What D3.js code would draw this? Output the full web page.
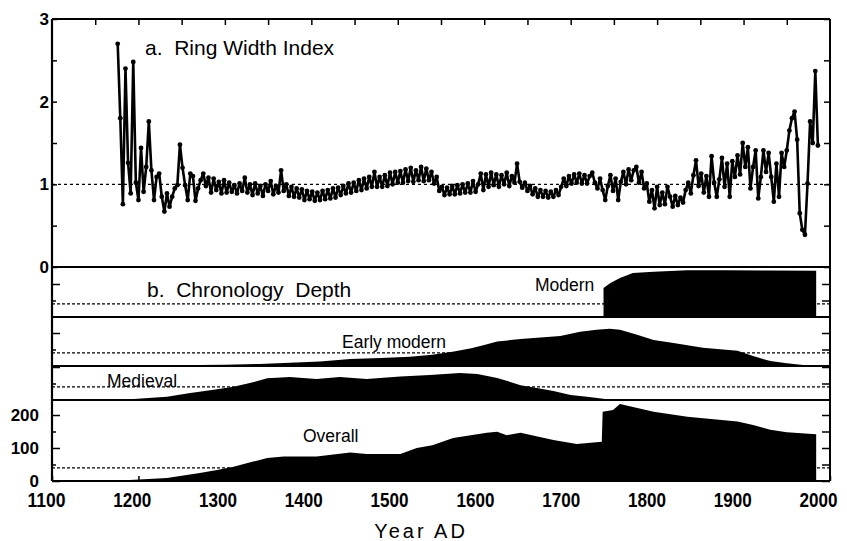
<!DOCTYPE html>
<html>
<head>
<meta charset="utf-8">
<script src="https://cdn.jsdelivr.net/npm/d3@7/dist/d3.min.js"></script>
<style>
body { margin: 0; background: white; }
svg { display: block; font-family: "Liberation Sans", Arial, Helvetica, sans-serif; }
</style>
</head>
<body>
<svg id="chart" width="847" height="541"></svg>
<script>

//****************************************************************************************************************************//
// Data

var ringStart = 1176, ringStep = 3;
var ringIndex = [
	2.70,1.80,0.76,2.40,1.26,0.89,2.48,1.02,0.81,1.44,
	0.91,1.21,1.76,1.17,0.81,1.09,1.13,0.85,0.67,0.89,
	0.73,0.85,0.95,0.99,1.48,1.20,0.99,0.81,1.13,1.10,
	0.80,0.95,1.05,1.13,0.98,1.08,0.90,1.07,0.93,1.03,
	0.89,1.05,0.90,1.02,0.91,0.99,0.89,1.01,0.92,1.08,
	0.90,1.00,0.87,1.01,0.89,0.98,0.86,1.00,0.92,1.04,
	0.88,0.98,0.90,1.17,0.92,1.00,0.86,0.97,0.85,0.95,
	0.84,0.94,0.81,0.92,0.82,0.91,0.80,0.90,0.81,0.92,
	0.82,0.93,0.83,0.95,0.84,0.96,0.87,0.98,0.89,1.01,
	0.90,1.02,0.92,1.05,0.93,1.07,0.95,1.09,0.97,1.15,
	0.97,1.09,0.97,1.11,0.98,1.14,1.00,1.15,1.02,1.16,
	1.02,1.18,1.04,1.20,1.03,1.17,1.05,1.21,1.04,1.19,
	1.05,1.15,1.01,1.09,0.92,0.97,0.87,0.96,0.88,0.98,
	0.88,0.99,0.89,1.00,0.90,1.01,0.90,1.04,0.91,1.00,
	1.13,0.93,1.12,0.97,1.14,0.99,1.12,0.97,1.11,1.00,
	1.14,0.98,1.10,1.02,1.25,1.03,0.96,1.02,0.92,0.98,
	0.88,0.95,0.85,0.93,0.85,0.92,0.84,0.91,0.85,0.93,
	0.87,0.97,1.07,0.98,1.10,1.01,1.12,1.02,1.13,1.01,
	1.11,1.01,1.10,1.14,1.02,0.95,1.07,0.93,0.81,0.98,
	1.11,0.92,1.07,0.81,1.03,1.15,1.00,1.18,1.05,1.17,
	1.21,1.02,1.15,0.95,1.01,0.79,0.93,0.71,0.97,0.75,
	0.90,0.76,0.97,0.85,0.73,0.86,0.75,0.84,0.78,0.93,
	1.02,0.89,1.11,1.29,0.98,1.13,0.90,1.10,0.85,1.34,
	1.02,0.85,1.06,1.32,0.97,1.25,0.85,1.28,1.09,1.35,
	1.12,1.50,1.21,1.45,0.95,1.21,1.41,0.83,1.09,1.41,
	1.15,1.38,1.09,0.79,1.25,0.85,1.38,1.21,1.41,1.65,
	1.80,1.88,1.54,0.65,0.45,0.39,1.01,1.76,1.50,2.37,
	1.47
];

var modernYears = [1738, 1746, 1757, 1772, 1796, 1835, 1880, 1930, 1984];
var modernDepth = [88, 103, 118, 133, 137, 142, 142, 141, 140];

var earlyYears = [1240, 1300, 1340, 1375, 1410, 1445, 1480, 1514, 1540, 1565, 1585, 1600, 1615, 1642, 1665, 1688, 1711, 1730, 1745, 1757, 1775, 1796, 1819, 1853, 1893, 1911, 1931, 1950, 1969, 1985];
var earlyDepth = [2, 4, 6, 10, 14, 21, 24, 28, 34, 44, 54, 64, 74, 82, 86, 91, 104, 110, 113, 110, 96, 79, 70, 55, 46, 30, 15, 8, 3, 2];

var medievalYears = [1190, 1233, 1260, 1285, 1310, 1330, 1349, 1375, 1406, 1433, 1464, 1503, 1537, 1572, 1592, 1615, 1642, 1661, 1680, 1700, 1719, 1740];
var medievalDepth = [2, 10, 21, 30, 40, 52, 66, 70, 64, 70, 64, 71, 76, 82, 79, 67, 45, 36, 27, 15, 10, 3];

var overallYears = [1190, 1233, 1271, 1291, 1310, 1349, 1368, 1406, 1445, 1464, 1503, 1522, 1540, 1564, 1603, 1615, 1626, 1642, 1680, 1707, 1736, 1737, 1749, 1757, 1796, 1835, 1893, 1911, 1931, 1950, 1984];
var overallDepth = [3, 9, 24, 33, 43, 70, 74, 74, 86, 82, 82, 100, 108, 130, 146, 149, 139, 146, 124, 112, 119, 210, 215, 233, 210, 195, 180, 170, 155, 148, 142];

var depthNames = ["Modern", "Early modern", "Medieval", "Overall"];
var depthThreshold = 40;

var yearTicks = [1100, 1200, 1300, 1400, 1500, 1600, 1700, 1800, 1900, 2000];
var ringTicks = [0, 0.5, 1, 1.5, 2, 2.5, 3];
var depthTicks = [0, 50, 100, 150, 200];

//****************************************************************************************************************************//
// Layout

var width = 847, height = 541;
var canvas = d3.select("#chart");
var font = "'Liberation Sans', Arial, Helvetica, sans-serif";

var x = d3.scaleLinear().domain([1100, 2000]).range([52, 830]);
var yRing = d3.scaleLinear().domain([0, 3]).range([267, 19]);

var bands = [
	{ top: 268, bottom: 317, years: modernYears,   depth: modernDepth },
	{ top: 317, bottom: 366, years: earlyYears,    depth: earlyDepth },
	{ top: 366, bottom: 400, years: medievalYears, depth: medievalDepth },
	{ top: 400, bottom: 481, years: overallYears,  depth: overallDepth }
];
bands.forEach(function(b){
	b.y = d3.scaleLinear().domain([0, 100]).range([b.bottom, b.bottom - 33]);
});

//****************************************************************************************************************************//
// Panel a : Ring Width Index

canvas.append("line")
	.attr("x1", x(1100)).attr("x2", x(2000))
	.attr("y1", yRing(1)).attr("y2", yRing(1))
	.attr("stroke", "black")
	.attr("stroke-width", 1.4)
	.attr("stroke-dasharray", "3,3");

var ringData = ringIndex.map(function(v, i){ return { year: ringStart + i*ringStep, value: v }; });

canvas.append("path")
	.datum(ringData)
	.attr("fill", "none")
	.attr("stroke", "black")
	.attr("stroke-width", 2.6)
	.attr("stroke-linejoin", "round")
	.attr("d", d3.line().x(function(d){ return x(d.year); }).y(function(d){ return yRing(d.value); }));

canvas.selectAll(".ringDot")
	.data(ringData)
	.enter().append("circle")
	.attr("class", "ringDot")
	.attr("cx", function(d){ return x(d.year); })
	.attr("cy", function(d){ return yRing(d.value); })
	.attr("r", 2.4)
	.attr("fill", "black");

canvas.append("text")
	.attr("x", 145)
	.attr("y", 55)
	.style("font-size", "21px")
	.text("a.\u00a0 Ring Width Index");

//****************************************************************************************************************************//
// Panel b : Chronology Depth

bands.forEach(function(b, k){
	canvas.append("line")
		.attr("x1", x(1100)).attr("x2", x(2000))
		.attr("y1", b.y(depthThreshold)).attr("y2", b.y(depthThreshold))
		.attr("stroke", "black")
		.attr("stroke-width", 1.3)
		.attr("stroke-dasharray", "3,2");

	var pts = b.years.map(function(yr, i){ return { year: yr, value: b.depth[i] }; });
	canvas.append("path")
		.datum(pts)
		.attr("fill", "black")
		.attr("d", d3.area()
			.x(function(d){ return x(d.year); })
			.y0(b.bottom)
			.y1(function(d){ return b.y(d.value); }));

	canvas.append("line")
		.attr("x1", x(1100)).attr("x2", x(2000))
		.attr("y1", b.bottom).attr("y2", b.bottom)
		.attr("stroke", "black")
		.attr("stroke-width", 2.2);

	// small ticks on each band edge
	var sideTicks = (k == 3) ? depthTicks : [50, 100];
	canvas.append("g")
		.attr("transform", "translate(" + x(1100) + ",0)")
		.call(d3.axisLeft(b.y).tickValues(sideTicks).tickSizeInner(-8).tickSizeOuter(0)
			.tickPadding(13).tickFormat(k == 3 ? function(d){ return d % 100 == 0 ? d : ""; } : function(){ return ""; }))
		.call(function(g){
			g.select(".domain").remove();
			g.selectAll("text").style("font-size", "17px").style("font-weight", "bold").style("font-family", font);
			g.selectAll(".tick line").attr("x2", function(d){ return d % 100 == 0 ? 8 : 4; }).attr("stroke-width", 1.5);
		});
	canvas.append("g")
		.attr("transform", "translate(" + x(2000) + ",0)")
		.call(d3.axisRight(b.y).tickValues(sideTicks).tickSizeInner(-8).tickSizeOuter(0).tickFormat(""))
		.call(function(g){
			g.select(".domain").remove();
			g.selectAll(".tick line").attr("stroke-width", 1.5);
		});
});

var bandLabels = [
	{ text: depthNames[0], x: 535, y: 291 },
	{ text: depthNames[1], x: 342, y: 348 },
	{ text: depthNames[2], x: 107, y: 387 },
	{ text: depthNames[3], x: 303, y: 442 }
];
bandLabels.forEach(function(l){
	canvas.append("text")
		.attr("x", l.x)
		.attr("y", l.y)
		.style("font-size", "17.5px")
		.text(l.text);
});

canvas.append("text")
	.attr("x", 147)
	.attr("y", 297)
	.style("font-size", "21px")
	.text("b.\u00a0 Chronology\u00a0 Depth");

//****************************************************************************************************************************//
// Frame and axes

canvas.append("line")
	.attr("x1", x(1100)).attr("x2", x(2000))
	.attr("y1", yRing(0)).attr("y2", yRing(0))
	.attr("stroke", "black")
	.attr("stroke-width", 2.2);

canvas.append("g")
	.attr("transform", "translate(" + x(1100) + ",0)")
	.call(d3.axisLeft(yRing).tickValues(ringTicks).tickSizeInner(-5).tickSizeOuter(0).tickPadding(3)
		.tickFormat(function(d){ return Number.isInteger(d) ? d : ""; }))
	.call(function(g){
		g.select(".domain").remove();
		g.selectAll("text").style("font-size", "17px").style("font-weight", "bold").style("font-family", font);
		g.selectAll(".tick line").attr("stroke-width", 1.5);
	});

canvas.append("g")
	.attr("transform", "translate(" + x(2000) + ",0)")
	.call(d3.axisRight(yRing).tickValues(ringTicks).tickSizeInner(-6).tickSizeOuter(0).tickFormat(""))
	.call(function(g){
		g.select(".domain").remove();
		g.selectAll(".tick line").attr("stroke-width", 1.5);
	});

canvas.append("g")
	.attr("transform", "translate(0," + yRing(3) + ")")
	.call(d3.axisTop(x).tickValues(d3.range(1150, 2000, 50)).tickSizeInner(-6).tickSizeOuter(0).tickFormat(""))
	.call(function(g){
		g.select(".domain").remove();
		g.selectAll(".tick line").attr("stroke-width", 1.5);
	});

canvas.append("g")
	.attr("transform", "translate(0," + bands[3].bottom + ")")
	.call(d3.axisBottom(x).tickValues(yearTicks).tickSizeInner(-5).tickSizeOuter(0).tickPadding(12)
		.tickFormat(d3.format("d")))
	.call(function(g){
		g.select(".domain").remove();
		g.selectAll(".tick line").attr("stroke-width", 1.5);
		g.selectAll("text")
			.style("font-size", "20px")
			.style("font-weight", "bold")
			.style("font-family", font)
			.attr("dx", function(d){ return -6 - (d - 1100)/900*6; })
			.attr("textLength", 38)
			.attr("lengthAdjust", "spacingAndGlyphs");
	});

// outer box
canvas.append("line")
	.attr("x1", x(1100)).attr("x2", x(2000))
	.attr("y1", yRing(3)).attr("y2", yRing(3))
	.attr("stroke", "black").attr("stroke-width", 2.2);
canvas.append("line")
	.attr("x1", x(1100)).attr("x2", x(1100))
	.attr("y1", yRing(3)).attr("y2", bands[3].bottom)
	.attr("stroke", "black").attr("stroke-width", 2.2);
canvas.append("line")
	.attr("x1", x(2000)).attr("x2", x(2000))
	.attr("y1", yRing(3)).attr("y2", bands[3].bottom)
	.attr("stroke", "black").attr("stroke-width", 2);

canvas.append("text")
	.attr("x", 421)
	.attr("y", 538)
	.attr("text-anchor", "middle")
	.style("font-size", "20px")
	.style("letter-spacing", "3px")
	.text("Year AD");

</script>
</body>
</html>
